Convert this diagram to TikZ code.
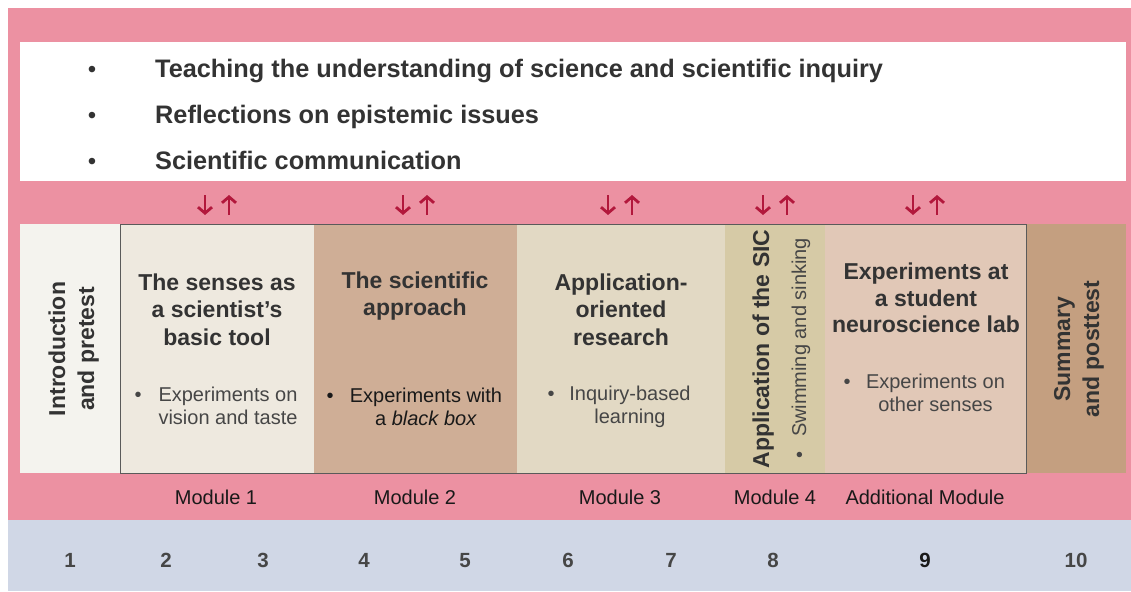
\documentclass[tikz,border=0pt]{standalone}
\usepackage{fontspec}
\setmainfont{Liberation Sans}
\usetikzlibrary{arrows.meta}
\definecolor{bandpink}{RGB}{236,145,162}
\definecolor{bandblue}{RGB}{208,215,230}
\definecolor{cintro}{RGB}{244,243,238}
\definecolor{cmodA}{RGB}{238,233,223}
\definecolor{cmodB}{RGB}{207,174,150}
\definecolor{cmodC}{RGB}{226,217,196}
\definecolor{cmodD}{RGB}{214,202,166}
\definecolor{cmodE}{RGB}{225,200,183}
\definecolor{csum}{RGB}{196,159,128}
\definecolor{arrowred}{RGB}{178,24,60}
\definecolor{txtdark}{RGB}{51,51,51}
\definecolor{txtgray}{RGB}{70,70,70}
\definecolor{txtblack}{RGB}{25,25,25}
\definecolor{framegray}{RGB}{90,90,90}
\newcommand\mlines[1]{\begin{tabular}[t]{@{}c@{}}#1\end{tabular}}
\begin{document}
\begin{tikzpicture}[x=1pt,y=-1pt,
  headtext/.style={font=\fontsize{25.3}{30}\selectfont\bfseries, text=txtdark, inner sep=0pt, anchor=base west},
  headbullet/.style={font=\fontsize{24}{30}\selectfont, text=txtdark, inner sep=0pt, anchor=base},
  titletext/.style={font=\fontsize{23}{27.5}\selectfont\bfseries, text=txtdark, inner sep=0pt, anchor=base},
  bodytext/.style={font=\fontsize{20}{23.5}\selectfont, text=txtgray, inner sep=0pt, anchor=base},
  verttext/.style={font=\fontsize{23}{29}\selectfont\bfseries, text=txtdark, inner sep=0pt, anchor=base, rotate=90},
  modlabel/.style={font=\fontsize{20}{24}\selectfont, text=txtblack, inner sep=0pt, anchor=base},
  numlabel/.style={font=\fontsize{20.5}{24}\selectfont\bfseries, text=txtgray, inner sep=0pt, anchor=base},
  linkarrow/.style={draw=arrowred, line width=2.8pt, -{Straight Barb[length=6pt,width=14pt,line width=2.8pt]}}
]
\useasboundingbox (0,0) rectangle (1131,591);
\fill[white] (0,0) rectangle (1131,591);
% bands
\fill[bandpink] (8,8) rectangle (1131,520);
\fill[bandblue] (8,520) rectangle (1131,591);
\fill[white] (20,42) rectangle (1126,181);
% module boxes
\fill[cintro] (20,224) rectangle (120,473);
\fill[cmodA] (120,224) rectangle (314,473);
\fill[cmodB] (314,224) rectangle (517,473);
\fill[cmodC] (517,224) rectangle (725,473);
\fill[cmodD] (725,224) rectangle (825,473);
\fill[cmodE] (825,224) rectangle (1026,473);
\fill[csum] (1026,224) rectangle (1126,473);
\draw[framegray, line width=0.9pt] (120,224) rectangle (1026,473);

% top bullets
\node[headbullet] (hb1) at (92,78) {\textbullet};
\node[headbullet] (hb2) at (92,124) {\textbullet};
\node[headbullet] (hb3) at (92,169) {\textbullet};
\node[headtext] (h1) at (155,78) {Teaching the understanding of science and scientific inquiry};
\node[headtext] (h2) at (155,124) {Reflections on epistemic issues};
\node[headtext] (h3) at (155,169) {Scientific communication};

% arrows
\foreach \c/\n in {217/a,415/b,620/c,775/d,925/e}{
  \coordinate (dn\n top) at (\c-12,195);
  \coordinate (dn\n bot) at (\c-12,215);
  \coordinate (up\n top) at (\c+12,195);
  \coordinate (up\n bot) at (\c+12,215);
  \draw[linkarrow] (dn\n top) -- (dn\n bot);
  \draw[linkarrow] (up\n bot) -- (up\n top);
}

% intro and summary
\node[verttext] (intro) at (65,349) {\mlines{Introduction\\and pretest}};
\node[verttext] (summ) at (1070,349) {\mlines{Summary\\and posttest}};

% module 1
\node[titletext] (t1) at (217,290) {\mlines{The senses as\\a scientist’s\\basic tool}};
\node[bodytext] (b1dot) at (138,401) {\textbullet};
\node[bodytext] (b1) at (228,401) {\mlines{Experiments on\\vision and taste}};
% module 2
\node[titletext] (t2) at (415,288) {\mlines{The scientific\\approach}};
\node[bodytext, text=txtblack] (b2dot) at (330,402) {\textbullet};
\node[bodytext, text=txtblack] (b2) at (426,402) {\mlines{Experiments with\\a \textit{black box}}};
% module 3
\node[titletext] (t3) at (621,290) {\mlines{Application-\\oriented\\research}};
\node[bodytext] (b3dot) at (551,400) {\textbullet};
\node[bodytext] (b3) at (630,400) {\mlines{Inquiry-based\\learning}};
% module 4
\node[verttext] (t4) at (769,349) {Application of the SIC};
\node[bodytext, rotate=90] (b4) at (806,348.5) {\textbullet\hspace{15pt}Swimming and sinking};
% additional module
\node[titletext, font=\fontsize{23}{26.5}\selectfont\bfseries] (t5) at (926,279.5) {\mlines{Experiments at\\a student\\neuroscience lab}};
\node[bodytext] (b5dot) at (847,388) {\textbullet};
\node[bodytext] (b5) at (935.5,388) {\mlines{Experiments on\\other senses}};

% module labels
\node[modlabel] (m1) at (216,504) {Module 1};
\node[modlabel] (m2) at (415,504) {Module 2};
\node[modlabel] (m3) at (620,504) {Module 3};
\node[modlabel] (m4) at (775,504) {Module 4};
\node[modlabel] (m5) at (925,504) {Additional Module};

% session numbers
\foreach \x/\t in {70/1,166/2,263/3,364/4,465/5,568/6,671/7,773/8,1076/10}{
  \node[numlabel] (n\t) at (\x,567) {\t};
}
\node[numlabel, text=txtblack] (n9) at (925,567) {9};
\end{tikzpicture}
\end{document}
